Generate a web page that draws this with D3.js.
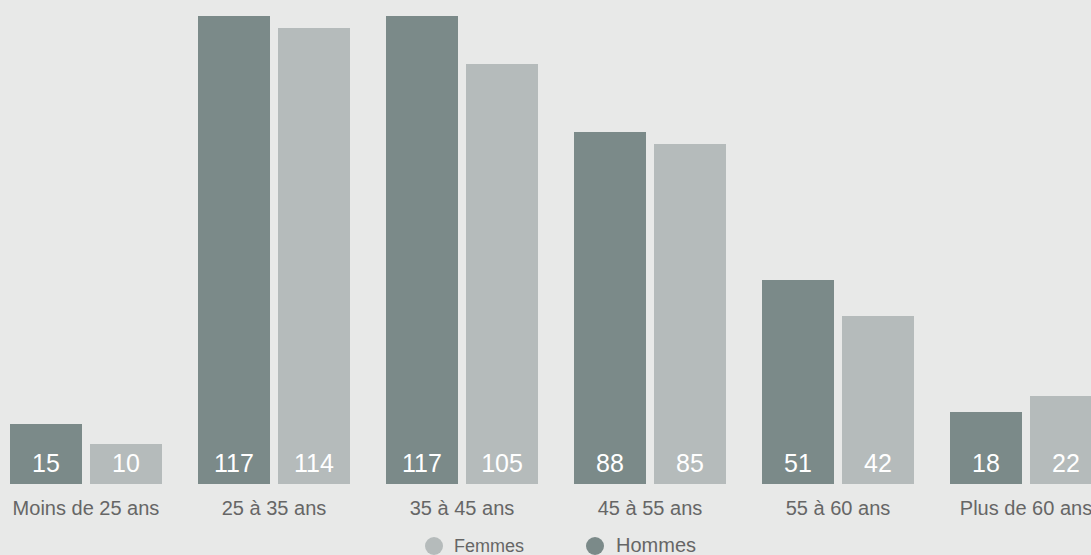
<!DOCTYPE html>
<html><head><meta charset="utf-8">
<script src="https://cdn.jsdelivr.net/npm/d3@7"></script>
<style>
html,body{margin:0;padding:0;background:#e8e9e8;overflow:hidden;}
svg{display:block;font-family:"Liberation Sans",Arial,Helvetica,sans-serif;}
</style></head>
<body>
<svg id="c" width="1091" height="555"></svg>
<script>
const categories = ["Moins de 25 ans","25 à 35 ans","35 à 45 ans","45 à 55 ans","55 à 60 ans","Plus de 60 ans"];
const seriesNames = ["Hommes","Femmes"];
const hommes = [15,117,117,88,51,18];
const femmes = [10,114,105,85,42,22];
const colors = {Hommes:"#7b8a89", Femmes:"#b5bbbb"};

const svg = d3.select("#c");
const x0 = d3.scaleBand().domain(categories).range([10,1102]).paddingInner(36/188).paddingOuter(0);
const x1 = d3.scaleBand().domain(seriesNames).range([0,x0.bandwidth()]).paddingInner(0.1);
const y = d3.scaleLinear().domain([0,117]).range([484,16]);

const data = categories.map((c,i)=>({cat:c, vals:[{s:"Hommes",v:hommes[i]},{s:"Femmes",v:femmes[i]}]}));

const g = svg.selectAll("g.grp").data(data).join("g").attr("class","grp")
  .attr("transform",d=>`translate(${x0(d.cat)},0)`);
g.selectAll("rect").data(d=>d.vals).join("rect")
  .attr("x",d=>x1(d.s)).attr("width",x1.bandwidth())
  .attr("y",d=>y(d.v)).attr("height",d=>y(0)-y(d.v))
  .attr("fill",d=>colors[d.s]);
g.selectAll("text.v").data(d=>d.vals).join("text").attr("class","v")
  .attr("x",d=>x1(d.s)+x1.bandwidth()/2).attr("y",472)
  .attr("text-anchor","middle").attr("fill","#fff").attr("font-size",25)
  .text(d=>d.v);
g.append("text").attr("x",x0.bandwidth()/2).attr("y",515)
  .attr("text-anchor","middle").attr("fill","#666").attr("font-size",20)
  .text(d=>d.cat);

const legend = [{s:"Femmes",cx:434,tx:454,fs:18},{s:"Hommes",cx:595,tx:616,fs:20}];
const lg = svg.selectAll("g.lg").data(legend).join("g").attr("class","lg");
lg.append("circle").attr("cx",d=>d.cx).attr("cy",546).attr("r",9).attr("fill",d=>colors[d.s]);
lg.append("text").attr("x",d=>d.tx).attr("y",552).attr("fill","#666").attr("font-size",d=>d.fs).text(d=>d.s);
</script>
</body></html>
